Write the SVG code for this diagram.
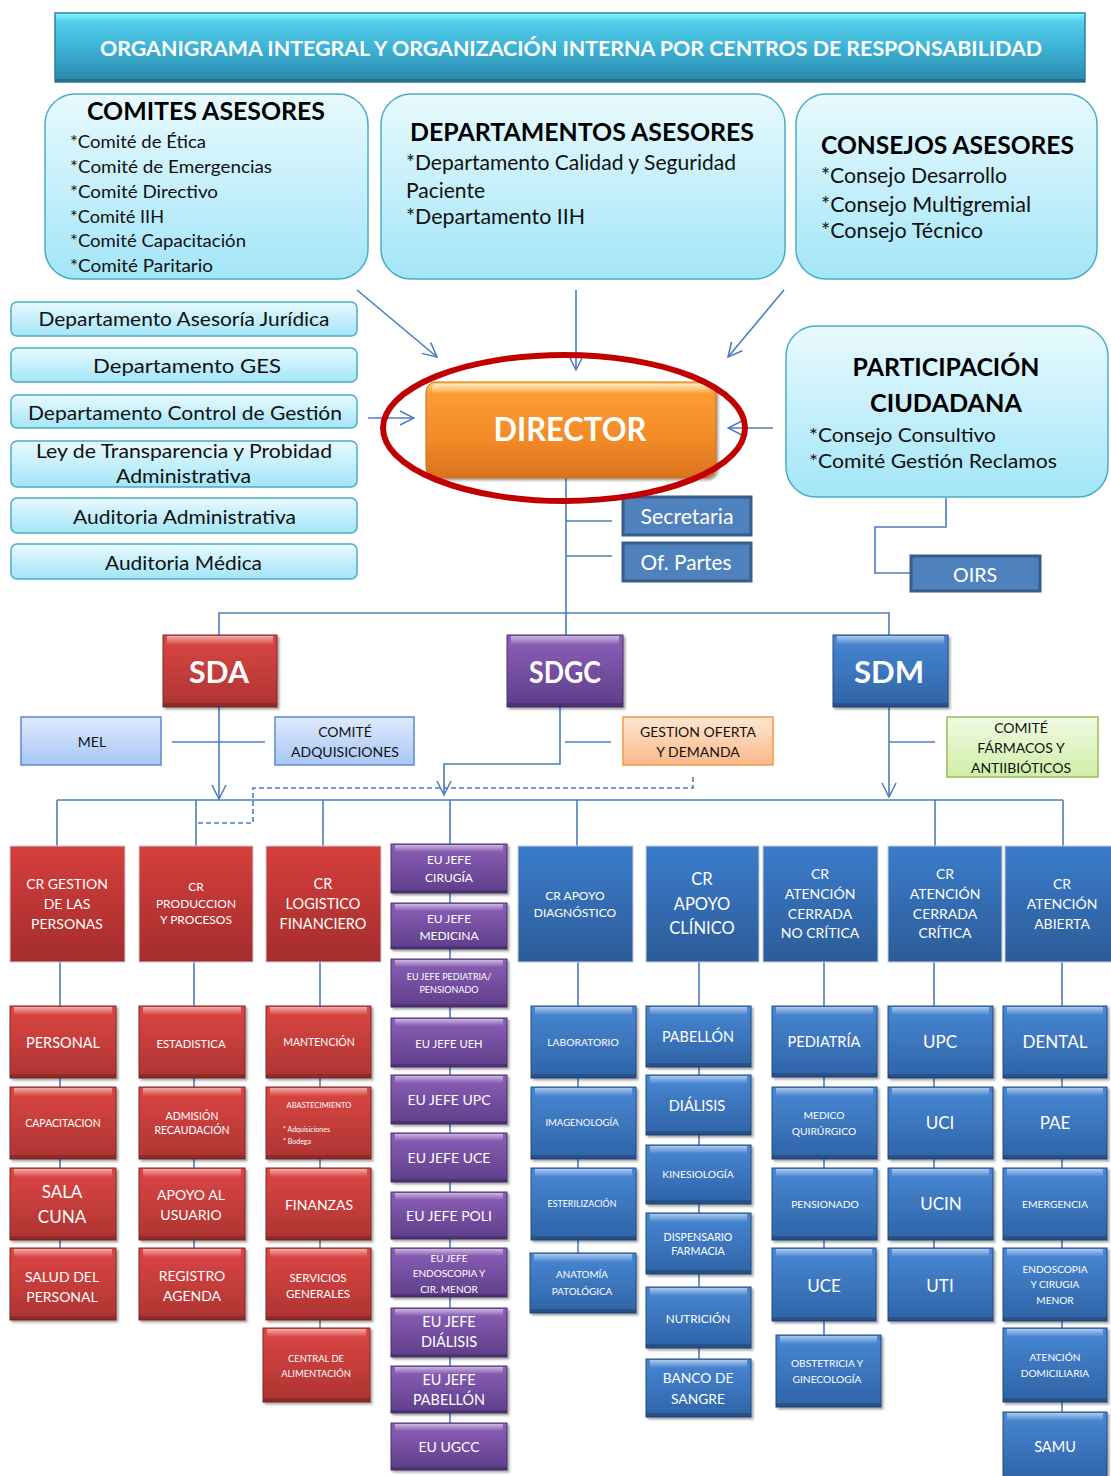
<svg xmlns="http://www.w3.org/2000/svg" width="1111" height="1476" viewBox="0 0 1111 1476">
<defs>
<linearGradient id="gHead" x1="0" y1="0" x2="0" y2="1"><stop offset="0" stop-color="#8af3ff"/><stop offset="0.12" stop-color="#55cfea"/><stop offset="0.5" stop-color="#3cb3d6"/><stop offset="1" stop-color="#2a86a8"/></linearGradient>
<linearGradient id="gAdv" x1="0" y1="0" x2="0" y2="1"><stop offset="0" stop-color="#e8fafe"/><stop offset="1" stop-color="#a3e5f7"/></linearGradient>
<linearGradient id="gDir" x1="0" y1="0" x2="0" y2="1"><stop offset="0" stop-color="#ffd36a"/><stop offset="0.12" stop-color="#fb9d33"/><stop offset="0.6" stop-color="#f28a27"/><stop offset="1" stop-color="#d9721d"/></linearGradient>
<linearGradient id="gRedCR" x1="0" y1="0" x2="0" y2="1"><stop offset="0" stop-color="#d53f3d"/><stop offset="1" stop-color="#a42d2c"/></linearGradient>
<linearGradient id="gBlueCR" x1="0" y1="0" x2="0" y2="1"><stop offset="0" stop-color="#3b7ccb"/><stop offset="1" stop-color="#2c5c99"/></linearGradient>
<linearGradient id="gRed" x1="0" y1="0" x2="0" y2="1"><stop offset="0" stop-color="#dc4644"/><stop offset="1" stop-color="#ad3432"/></linearGradient>
<linearGradient id="gBlue" x1="0" y1="0" x2="0" y2="1"><stop offset="0" stop-color="#4888d4"/><stop offset="1" stop-color="#2f63a6"/></linearGradient>
<linearGradient id="gPur" x1="0" y1="0" x2="0" y2="1"><stop offset="0" stop-color="#8c60b8"/><stop offset="1" stop-color="#5e3e8a"/></linearGradient>
<linearGradient id="gHl" x1="0" y1="0" x2="0" y2="1"><stop offset="0" stop-color="#ffffff" stop-opacity="0.55"/><stop offset="1" stop-color="#ffffff" stop-opacity="0"/></linearGradient>
<linearGradient id="gMel" x1="0" y1="0" x2="0" y2="1"><stop offset="0" stop-color="#dfeafc"/><stop offset="1" stop-color="#a8c6f4"/></linearGradient>
<linearGradient id="gGest" x1="0" y1="0" x2="0" y2="1"><stop offset="0" stop-color="#fde6d2"/><stop offset="1" stop-color="#fbb98a"/></linearGradient>
<linearGradient id="gFarm" x1="0" y1="0" x2="0" y2="1"><stop offset="0" stop-color="#f0fae2"/><stop offset="1" stop-color="#d0eea6"/></linearGradient>
<filter id="sh" x="-10%" y="-10%" width="125%" height="130%"><feDropShadow dx="2" dy="2" stdDeviation="1.2" flood-color="#000" flood-opacity="0.35"/></filter>
<marker id="ah" viewBox="0 0 16 16" refX="15" refY="8" markerWidth="16" markerHeight="16" orient="auto" markerUnits="userSpaceOnUse"><path d="M1,1 L15,8 L1,15" fill="none" stroke="#4a7ebb" stroke-width="1.5"/></marker>
<style>
text{font-family:Lato,"Liberation Sans",sans-serif}
.adv{fill:url(#gAdv);stroke:#4bacc6;stroke-width:1.5}
.tt{font-weight:bold;fill:#000}
.bk{fill:#111}
.w{fill:#fff;text-anchor:middle}
.m{text-anchor:middle}
.c{fill:none;stroke:#4a7ebb;stroke-width:1.6}
.d{stroke-dasharray:5 3}
.sm{fill:#4f81bd;stroke:#385d8a;stroke-width:3}
.cr{stroke:#c8ccd4;stroke-width:1}
.red .cr{fill:url(#gRedCR)}
.blue .cr{fill:url(#gBlueCR)}
.b{filter:url(#sh);stroke-width:1}
.red .b{fill:url(#gRed);stroke:#7e2826}
.blue .b{fill:url(#gBlue);stroke:#234a7e}
.pur .b{fill:url(#gPur);stroke:#48306c}
.hl{fill:url(#gHl)}
.dk{fill:#000;opacity:0.18}
</style>
</defs>
<rect width="1111" height="1476" fill="#fff"/>

<g id="header">
<rect x="55" y="13" width="1030" height="69" fill="url(#gHead)" stroke="#2f7f9e" stroke-width="1.5"/>
<rect x="55" y="79" width="1030" height="3" fill="#2a6f8a"/>
<text x="100" y="56" font-size="21" font-weight="bold" fill="#fff" textLength="942" lengthAdjust="spacingAndGlyphs">ORGANIGRAMA INTEGRAL Y ORGANIZACIÓN INTERNA POR CENTROS DE RESPONSABILIDAD</text>
</g>

<g id="connectors">
<line class="c" x1="357" y1="290" x2="437" y2="357" marker-end="url(#ah)"/>
<line class="c" x1="576" y1="290" x2="576" y2="370" marker-end="url(#ah)"/>
<line class="c" x1="784" y1="290" x2="728" y2="357" marker-end="url(#ah)"/>
<line class="c" x1="368" y1="418" x2="414" y2="418" marker-end="url(#ah)"/>
<line class="c" x1="773" y1="428" x2="728" y2="428" marker-end="url(#ah)"/>
<line class="c" x1="566" y1="478" x2="566" y2="636"/>
<line class="c" x1="566" y1="521" x2="612" y2="521"/>
<line class="c" x1="566" y1="556" x2="612" y2="556"/>
<polyline class="c" points="946,498 946,527 875,527 875,573 911,573"/>
<polyline class="c" points="219,636 219,613 889,613 889,636"/>
<line class="c" x1="219" y1="707" x2="219" y2="799" marker-end="url(#ah)"/>
<line class="c" x1="172" y1="742" x2="265" y2="742"/>
<polyline class="c" points="560,707 560,764 444,764 444,795" marker-end="url(#ah)"/>
<line class="c" x1="565" y1="742" x2="611" y2="742"/>
<line class="c" x1="889" y1="707" x2="889" y2="797" marker-end="url(#ah)"/>
<line class="c" x1="889" y1="742" x2="935" y2="742"/>
<polyline class="c d" points="693,777 693,788 253,788 253,823 197,823"/>
<line class="c" x1="57" y1="800" x2="1063" y2="800"/>
<line class="c" x1="57" y1="800" x2="57" y2="846"/>
<line class="c" x1="196" y1="800" x2="196" y2="846"/>
<line class="c" x1="323" y1="800" x2="323" y2="846"/>
<line class="c" x1="577" y1="800" x2="577" y2="846"/>
<line class="c" x1="935" y1="800" x2="935" y2="846"/>
<line class="c" x1="1063" y1="800" x2="1063" y2="846"/>
<line class="c" x1="450" y1="800" x2="450" y2="1423"/>
<line class="c" x1="60" y1="962" x2="60" y2="1248"/>
<line class="c" x1="194" y1="962" x2="194" y2="1248"/>
<line class="c" x1="320" y1="962" x2="320" y2="1328"/>
<line class="c" x1="578" y1="962" x2="578" y2="1253"/>
<line class="c" x1="699" y1="962" x2="699" y2="1359"/>
<line class="c" x1="824" y1="962" x2="824" y2="1335"/>
<line class="c" x1="934" y1="962" x2="934" y2="1248"/>
<line class="c" x1="1062" y1="962" x2="1062" y2="1412"/>
</g>

<g id="comites-asesores">
<rect class="adv" x="45" y="94" width="323" height="185" rx="30"/>
<text class="tt m" x="206" y="120" font-size="25" textLength="238" lengthAdjust="spacingAndGlyphs">COMITES ASESORES</text>
<g class="bk" font-size="18">
<text x="70" y="148" textLength="136" lengthAdjust="spacingAndGlyphs">*Comité de Ética</text>
<text x="70" y="173" textLength="202" lengthAdjust="spacingAndGlyphs">*Comité de Emergencias</text>
<text x="70" y="198" textLength="148" lengthAdjust="spacingAndGlyphs">*Comité Directivo</text>
<text x="70" y="223" textLength="94" lengthAdjust="spacingAndGlyphs">*Comité IIH</text>
<text x="70" y="247" textLength="176" lengthAdjust="spacingAndGlyphs">*Comité Capacitación</text>
<text x="70" y="272" textLength="143" lengthAdjust="spacingAndGlyphs">*Comité Paritario</text>
</g>
</g>

<g id="departamentos-asesores">
<rect class="adv" x="381" y="94" width="404" height="185" rx="30"/>
<text class="tt" x="410" y="141" font-size="25" textLength="344" lengthAdjust="spacingAndGlyphs">DEPARTAMENTOS ASESORES</text>
<g class="bk" font-size="20.5">
<text x="406" y="170" textLength="330" lengthAdjust="spacingAndGlyphs">*Departamento Calidad y Seguridad</text>
<text x="406" y="198" textLength="79" lengthAdjust="spacingAndGlyphs">Paciente</text>
<text x="406" y="224" textLength="179" lengthAdjust="spacingAndGlyphs">*Departamento IIH</text>
</g>
</g>

<g id="consejos-asesores">
<rect class="adv" x="796" y="94" width="301" height="185" rx="30"/>
<text class="tt" x="821" y="154" font-size="25" textLength="253" lengthAdjust="spacingAndGlyphs">CONSEJOS ASESORES</text>
<g class="bk" font-size="20.5">
<text x="821" y="183" textLength="186" lengthAdjust="spacingAndGlyphs">*Consejo Desarrollo</text>
<text x="821" y="212" textLength="210" lengthAdjust="spacingAndGlyphs">*Consejo Multigremial</text>
<text x="821" y="238" textLength="162" lengthAdjust="spacingAndGlyphs">*Consejo Técnico</text>
</g>
</g>

<g id="dept-asesoria-juridica"><rect class="adv" x="11" y="302" width="346" height="34" rx="6"/><text class="bk m" x="184" y="326" font-size="20" textLength="291" lengthAdjust="spacingAndGlyphs">Departamento Asesoría Jurídica</text></g>
<g id="dept-ges"><rect class="adv" x="11" y="348" width="346" height="34" rx="6"/><text class="bk m" x="187" y="373" font-size="20" textLength="188" lengthAdjust="spacingAndGlyphs">Departamento GES</text></g>
<g id="dept-control-gestion"><rect class="adv" x="11" y="395" width="346" height="33" rx="6"/><text class="bk m" x="185" y="420" font-size="20" textLength="314" lengthAdjust="spacingAndGlyphs">Departamento Control de Gestión</text></g>
<g id="ley-transparencia"><rect class="adv" x="11" y="441" width="346" height="46" rx="6"/><text class="bk m" x="184" y="458" font-size="20" textLength="296" lengthAdjust="spacingAndGlyphs">Ley de Transparencia y Probidad</text><text class="bk m" x="183.5" y="483" font-size="20" textLength="135" lengthAdjust="spacingAndGlyphs">Administrativa</text></g>
<g id="auditoria-administrativa"><rect class="adv" x="11" y="498" width="346" height="35" rx="6"/><text class="bk m" x="184.5" y="524" font-size="20" textLength="223" lengthAdjust="spacingAndGlyphs">Auditoria Administrativa</text></g>
<g id="auditoria-medica"><rect class="adv" x="11" y="544" width="346" height="35" rx="6"/><text class="bk m" x="183.5" y="570" font-size="20" textLength="157" lengthAdjust="spacingAndGlyphs">Auditoria Médica</text></g>

<g id="director">
<rect x="426" y="382" width="290" height="96" rx="10" fill="url(#gDir)" stroke="#c96a1a" stroke-width="1" filter="url(#sh)"/>
<rect x="432" y="384" width="278" height="10" rx="4" class="hl"/>
<text class="w" x="570" y="441" font-size="32" font-weight="bold" textLength="153" lengthAdjust="spacingAndGlyphs">DIRECTOR</text>
</g>

<g id="participacion-ciudadana">
<rect class="adv" x="786" y="326" width="322" height="171" rx="30"/>
<text class="tt m" x="946" y="376" font-size="25" textLength="187" lengthAdjust="spacingAndGlyphs">PARTICIPACIÓN</text>
<text class="tt m" x="946" y="412" font-size="25" textLength="152" lengthAdjust="spacingAndGlyphs">CIUDADANA</text>
<text class="bk" x="809" y="442" font-size="20" textLength="187" lengthAdjust="spacingAndGlyphs">*Consejo Consultivo</text>
<text class="bk" x="809" y="468" font-size="20" textLength="248" lengthAdjust="spacingAndGlyphs">*Comité Gestión Reclamos</text>
</g>

<g id="secretaria"><rect class="sm" x="623" y="497" width="128" height="38"/><text class="w" x="687" y="524" font-size="21" textLength="93" lengthAdjust="spacingAndGlyphs">Secretaria</text></g>
<g id="of-partes"><rect class="sm" x="623" y="543" width="128" height="38"/><text class="w" x="686" y="570" font-size="21" textLength="91" lengthAdjust="spacingAndGlyphs">Of. Partes</text></g>
<g id="oirs"><rect class="sm" x="911" y="556" width="129" height="35"/><text class="w" x="975" y="582" font-size="20" textLength="44" lengthAdjust="spacingAndGlyphs">OIRS</text></g>

<g id="sda" class="red"><rect class="b" x="163" y="635" width="114" height="72"/><rect class="hl" x="167" y="636" width="106" height="9"/><rect class="dk" x="163" y="703" width="114" height="4"/><text class="w" x="219" y="683" font-size="31" font-weight="bold" textLength="60" lengthAdjust="spacingAndGlyphs">SDA</text></g>
<g id="sdgc" class="pur"><rect class="b" x="507" y="635" width="116" height="72"/><rect class="hl" x="511" y="636" width="108" height="9"/><rect class="dk" x="507" y="703" width="116" height="4"/><text class="w" x="565" y="683" font-size="31" font-weight="bold" textLength="72" lengthAdjust="spacingAndGlyphs">SDGC</text></g>
<g id="sdm" class="blue"><rect class="b" x="833" y="635" width="115" height="72"/><rect class="hl" x="837" y="636" width="107" height="9"/><rect class="dk" x="833" y="703" width="115" height="4"/><text class="w" x="889" y="683" font-size="31" font-weight="bold" textLength="70" lengthAdjust="spacingAndGlyphs">SDM</text></g>

<g id="mel"><rect x="21" y="717" width="140" height="48" fill="url(#gMel)" stroke="#5b8bd0" stroke-width="1.5"/><text class="bk m" x="92" y="747" font-size="14">MEL</text></g>
<g id="comite-adquisiciones"><rect x="275" y="717" width="139" height="48" fill="url(#gMel)" stroke="#5b8bd0" stroke-width="1.5"/><text class="bk m" x="345" y="737" font-size="14">COMITÉ</text><text class="bk m" x="345" y="757" font-size="14">ADQUISICIONES</text></g>
<g id="gestion-oferta"><rect x="623" y="717" width="150" height="48" fill="url(#gGest)" stroke="#f79646" stroke-width="1.5"/><text class="bk m" x="698" y="737" font-size="14">GESTION OFERTA</text><text class="bk m" x="698" y="757" font-size="14">Y DEMANDA</text></g>
<g id="comite-farmacos"><rect x="947" y="717" width="151" height="60" fill="url(#gFarm)" stroke="#9bbb59" stroke-width="1.5"/><text class="bk m" x="1021" y="733" font-size="14">COMITÉ</text><text class="bk m" x="1021" y="753" font-size="14">FÁRMACOS Y</text><text class="bk m" x="1021" y="773" font-size="14">ANTIIBIÓTICOS</text></g>

<!-- CR boxes -->
<g id="cr-gestion-personas" class="red"><rect class="cr" x="10" y="846" width="115" height="116"/><g class="w" font-size="14"><text x="67" y="889">CR GESTION</text><text x="67" y="909">DE LAS</text><text x="67" y="929">PERSONAS</text></g></g>
<g id="cr-produccion-procesos" class="red"><rect class="cr" x="139" y="846" width="114" height="116"/><g class="w" font-size="12"><text x="196" y="891">CR</text><text x="196" y="908">PRODUCCION</text><text x="196" y="924">Y PROCESOS</text></g></g>
<g id="cr-logistico-financiero" class="red"><rect class="cr" x="266" y="846" width="115" height="116"/><g class="w" font-size="14.5"><text x="323" y="889">CR</text><text x="323" y="909">LOGISTICO</text><text x="323" y="929">FINANCIERO</text></g></g>
<g id="cr-apoyo-diagnostico" class="blue"><rect class="cr" x="518" y="846" width="115" height="116"/><g class="w" font-size="12"><text x="575" y="900">CR APOYO</text><text x="575" y="917">DIAGNÓSTICO</text></g></g>
<g id="cr-apoyo-clinico" class="blue"><rect class="cr" x="646" y="846" width="113" height="116"/><g class="w" font-size="16.5"><text x="702" y="885">CR</text><text x="702" y="910">APOYO</text><text x="702" y="934">CLÍNICO</text></g></g>
<g id="cr-atencion-cerrada-no-critica" class="blue"><rect class="cr" x="763" y="846" width="115" height="116"/><g class="w" font-size="14"><text x="820" y="879">CR</text><text x="820" y="899">ATENCIÓN</text><text x="820" y="919">CERRADA</text><text x="820" y="938">NO CRÍTICA</text></g></g>
<g id="cr-atencion-cerrada-critica" class="blue"><rect class="cr" x="888" y="846" width="114" height="116"/><g class="w" font-size="14"><text x="945" y="879">CR</text><text x="945" y="899">ATENCIÓN</text><text x="945" y="919">CERRADA</text><text x="945" y="938">CRÍTICA</text></g></g>
<g id="cr-atencion-abierta" class="blue"><rect class="cr" x="1005" y="846" width="107" height="116"/><g class="w" font-size="14"><text x="1062" y="889">CR</text><text x="1062" y="909">ATENCIÓN</text><text x="1062" y="929">ABIERTA</text></g></g>

<!-- red sub column 1 -->
<g id="personal" class="red"><rect class="b" x="10" y="1006" width="106" height="72"/><rect class="hl" x="14" y="1007" width="98" height="8"/><rect class="dk" x="10" y="1074" width="106" height="4"/><text class="w" x="63" y="1048" font-size="14.5">PERSONAL</text></g>
<g id="capacitacion" class="red"><rect class="b" x="10" y="1087" width="106" height="72"/><rect class="hl" x="14" y="1088" width="98" height="8"/><rect class="dk" x="10" y="1155" width="106" height="4"/><text class="w" x="63" y="1127" font-size="10.5">CAPACITACION</text></g>
<g id="sala-cuna" class="red"><rect class="b" x="10" y="1168" width="106" height="72"/><rect class="hl" x="14" y="1169" width="98" height="8"/><rect class="dk" x="10" y="1236" width="106" height="4"/><text class="w" x="62" y="1198" font-size="17">SALA</text><text class="w" x="62" y="1223" font-size="17">CUNA</text></g>
<g id="salud-personal" class="red"><rect class="b" x="10" y="1248" width="106" height="72"/><rect class="hl" x="14" y="1249" width="98" height="8"/><rect class="dk" x="10" y="1316" width="106" height="4"/><text class="w" x="62" y="1282" font-size="14">SALUD DEL</text><text class="w" x="62" y="1302" font-size="14">PERSONAL</text></g>

<!-- red sub column 2 -->
<g id="estadistica" class="red"><rect class="b" x="139" y="1006" width="106" height="72"/><rect class="hl" x="143" y="1007" width="98" height="8"/><rect class="dk" x="139" y="1074" width="106" height="4"/><text class="w" x="191" y="1048" font-size="11.3">ESTADISTICA</text></g>
<g id="admision-recaudacion" class="red"><rect class="b" x="139" y="1087" width="106" height="72"/><rect class="hl" x="143" y="1088" width="98" height="8"/><rect class="dk" x="139" y="1155" width="106" height="4"/><text class="w" x="192" y="1120" font-size="10.5">ADMISIÓN</text><text class="w" x="192" y="1134" font-size="10.5">RECAUDACIÓN</text></g>
<g id="apoyo-usuario" class="red"><rect class="b" x="139" y="1168" width="106" height="72"/><rect class="hl" x="143" y="1169" width="98" height="8"/><rect class="dk" x="139" y="1236" width="106" height="4"/><text class="w" x="191" y="1200" font-size="14">APOYO AL</text><text class="w" x="191" y="1220" font-size="14">USUARIO</text></g>
<g id="registro-agenda" class="red"><rect class="b" x="139" y="1248" width="106" height="72"/><rect class="hl" x="143" y="1249" width="98" height="8"/><rect class="dk" x="139" y="1316" width="106" height="4"/><text class="w" x="192" y="1281" font-size="14">REGISTRO</text><text class="w" x="192" y="1301" font-size="14">AGENDA</text></g>

<!-- red sub column 3 -->
<g id="mantencion" class="red"><rect class="b" x="266" y="1006" width="105" height="72"/><rect class="hl" x="270" y="1007" width="97" height="8"/><rect class="dk" x="266" y="1074" width="105" height="4"/><text class="w" x="319" y="1046" font-size="10.5">MANTENCIÓN</text></g>
<g id="abastecimiento" class="red"><rect class="b" x="266" y="1087" width="105" height="72"/><rect class="hl" x="270" y="1088" width="97" height="8"/><rect class="dk" x="266" y="1155" width="105" height="4"/><text class="w" x="319" y="1108" font-size="7.6">ABASTECIMIENTO</text><text x="283" y="1132" font-size="7" fill="#fff">* Adquisiciones</text><text x="283" y="1144" font-size="7" fill="#fff">* Bodega</text></g>
<g id="finanzas" class="red"><rect class="b" x="266" y="1168" width="105" height="72"/><rect class="hl" x="270" y="1169" width="97" height="8"/><rect class="dk" x="266" y="1236" width="105" height="4"/><text class="w" x="319" y="1210" font-size="14">FINANZAS</text></g>
<g id="servicios-generales" class="red"><rect class="b" x="266" y="1248" width="105" height="72"/><rect class="hl" x="270" y="1249" width="97" height="8"/><rect class="dk" x="266" y="1316" width="105" height="4"/><text class="w" x="318" y="1282" font-size="11.5">SERVICIOS</text><text class="w" x="318" y="1298" font-size="11.5">GENERALES</text></g>
<g id="central-alimentacion" class="red"><rect class="b" x="263" y="1328" width="107" height="74"/><rect class="hl" x="267" y="1329" width="99" height="8"/><rect class="dk" x="263" y="1398" width="107" height="4"/><text class="w" x="316" y="1362" font-size="9.4">CENTRAL DE</text><text class="w" x="316" y="1377" font-size="9.4">ALIMENTACIÓN</text></g>

<!-- purple EU column -->
<g id="eu-cirugia" class="pur"><rect class="b" x="391" y="844" width="116" height="49"/><rect class="hl" x="395" y="845" width="108" height="7"/><rect class="dk" x="391" y="890" width="116" height="3"/><text class="w" x="449" y="864" font-size="12">EU JEFE</text><text class="w" x="449" y="882" font-size="12">CIRUGÍA</text></g>
<g id="eu-medicina" class="pur"><rect class="b" x="391" y="903" width="116" height="46"/><rect class="hl" x="395" y="904" width="108" height="7"/><rect class="dk" x="391" y="946" width="116" height="3"/><text class="w" x="449" y="923" font-size="12">EU JEFE</text><text class="w" x="449" y="940" font-size="12">MEDICINA</text></g>
<g id="eu-pediatria" class="pur"><rect class="b" x="391" y="959" width="116" height="48"/><rect class="hl" x="395" y="960" width="108" height="7"/><rect class="dk" x="391" y="1004" width="116" height="3"/><text class="w" x="449" y="980" font-size="9">EU JEFE PEDIATRIA/</text><text class="w" x="449" y="993" font-size="9">PENSIONADO</text></g>
<g id="eu-ueh" class="pur"><rect class="b" x="391" y="1018" width="116" height="49"/><rect class="hl" x="395" y="1019" width="108" height="7"/><rect class="dk" x="391" y="1064" width="116" height="3"/><text class="w" x="449" y="1048" font-size="11.2">EU JEFE UEH</text></g>
<g id="eu-upc" class="pur"><rect class="b" x="391" y="1075" width="116" height="49"/><rect class="hl" x="395" y="1076" width="108" height="7"/><rect class="dk" x="391" y="1121" width="116" height="3"/><text class="w" x="449" y="1105" font-size="14">EU JEFE UPC</text></g>
<g id="eu-uce" class="pur"><rect class="b" x="391" y="1133" width="116" height="49"/><rect class="hl" x="395" y="1134" width="108" height="7"/><rect class="dk" x="391" y="1179" width="116" height="3"/><text class="w" x="449" y="1163" font-size="14">EU JEFE UCE</text></g>
<g id="eu-poli" class="pur"><rect class="b" x="391" y="1192" width="116" height="47"/><rect class="hl" x="395" y="1193" width="108" height="7"/><rect class="dk" x="391" y="1236" width="116" height="3"/><text class="w" x="449" y="1221" font-size="14">EU JEFE POLI</text></g>
<g id="eu-endoscopia" class="pur"><rect class="b" x="391" y="1248" width="116" height="49"/><rect class="hl" x="395" y="1249" width="108" height="7"/><rect class="dk" x="391" y="1294" width="116" height="3"/><text class="w" x="449" y="1262" font-size="10">EU JEFE</text><text class="w" x="449" y="1277" font-size="10">ENDOSCOPIA Y</text><text class="w" x="449" y="1293" font-size="10">CIR. MENOR</text></g>
<g id="eu-dialisis" class="pur"><rect class="b" x="391" y="1308" width="116" height="49"/><rect class="hl" x="395" y="1309" width="108" height="7"/><rect class="dk" x="391" y="1354" width="116" height="3"/><text class="w" x="449" y="1327" font-size="14.5">EU JEFE</text><text class="w" x="449" y="1347" font-size="14.5">DIÁLISIS</text></g>
<g id="eu-pabellon" class="pur"><rect class="b" x="391" y="1366" width="116" height="47"/><rect class="hl" x="395" y="1367" width="108" height="7"/><rect class="dk" x="391" y="1410" width="116" height="3"/><text class="w" x="449" y="1385" font-size="14.4">EU JEFE</text><text class="w" x="449" y="1405" font-size="14.4">PABELLÓN</text></g>
<g id="eu-ugcc" class="pur"><rect class="b" x="391" y="1423" width="116" height="47"/><rect class="hl" x="395" y="1424" width="108" height="7"/><rect class="dk" x="391" y="1467" width="116" height="3"/><text class="w" x="449" y="1452" font-size="14">EU UGCC</text></g>

<!-- blue apoyo diagnostico -->
<g id="laboratorio" class="blue"><rect class="b" x="531" y="1006" width="105" height="72"/><rect class="hl" x="535" y="1007" width="97" height="8"/><rect class="dk" x="531" y="1074" width="105" height="4"/><text class="w" x="583" y="1046" font-size="10.3">LABORATORIO</text></g>
<g id="imagenologia" class="blue"><rect class="b" x="531" y="1087" width="105" height="72"/><rect class="hl" x="535" y="1088" width="97" height="8"/><rect class="dk" x="531" y="1155" width="105" height="4"/><text class="w" x="582" y="1126" font-size="9.5">IMAGENOLOGÍA</text></g>
<g id="esterilizacion" class="blue"><rect class="b" x="531" y="1168" width="105" height="72"/><rect class="hl" x="535" y="1169" width="97" height="8"/><rect class="dk" x="531" y="1236" width="105" height="4"/><text class="w" x="582" y="1207" font-size="8.9">ESTERILIZACIÓN</text></g>
<g id="anatomia-patologica" class="blue"><rect class="b" x="530" y="1253" width="106" height="60"/><rect class="hl" x="534" y="1254" width="98" height="8"/><rect class="dk" x="530" y="1309" width="106" height="4"/><text class="w" x="582" y="1278" font-size="9.8">ANATOMÍA</text><text class="w" x="582" y="1295" font-size="9.8">PATOLÓGICA</text></g>

<!-- blue apoyo clinico -->
<g id="pabellon" class="blue"><rect class="b" x="646" y="1006" width="105" height="61"/><rect class="hl" x="650" y="1007" width="97" height="8"/><rect class="dk" x="646" y="1063" width="105" height="4"/><text class="w" x="698" y="1042" font-size="14.4">PABELLÓN</text></g>
<g id="dialisis" class="blue"><rect class="b" x="646" y="1075" width="105" height="60"/><rect class="hl" x="650" y="1076" width="97" height="8"/><rect class="dk" x="646" y="1131" width="105" height="4"/><text class="w" x="697" y="1111" font-size="14.6">DIÁLISIS</text></g>
<g id="kinesiologia" class="blue"><rect class="b" x="646" y="1145" width="105" height="59"/><rect class="hl" x="650" y="1146" width="97" height="8"/><rect class="dk" x="646" y="1200" width="105" height="4"/><text class="w" x="698" y="1178" font-size="10.4">KINESIOLOGÍA</text></g>
<g id="dispensario-farmacia" class="blue"><rect class="b" x="646" y="1213" width="105" height="61"/><rect class="hl" x="650" y="1214" width="97" height="8"/><rect class="dk" x="646" y="1270" width="105" height="4"/><text class="w" x="698" y="1241" font-size="10.7">DISPENSARIO</text><text class="w" x="698" y="1255" font-size="10.7">FARMACIA</text></g>
<g id="nutricion" class="blue"><rect class="b" x="646" y="1287" width="105" height="61"/><rect class="hl" x="650" y="1288" width="97" height="8"/><rect class="dk" x="646" y="1344" width="105" height="4"/><text class="w" x="698" y="1323" font-size="11.7">NUTRICIÓN</text></g>
<g id="banco-sangre" class="blue"><rect class="b" x="646" y="1359" width="105" height="58"/><rect class="hl" x="650" y="1360" width="97" height="8"/><rect class="dk" x="646" y="1413" width="105" height="4"/><text class="w" x="698" y="1383" font-size="13.8">BANCO DE</text><text class="w" x="698" y="1404" font-size="13.8">SANGRE</text></g>

<!-- blue atencion cerrada no critica -->
<g id="pediatria" class="blue"><rect class="b" x="772" y="1006" width="105" height="71"/><rect class="hl" x="776" y="1007" width="97" height="8"/><rect class="dk" x="772" y="1073" width="105" height="4"/><text class="w" x="824" y="1047" font-size="14.6">PEDIATRÍA</text></g>
<g id="medico-quirurgico" class="blue"><rect class="b" x="772" y="1087" width="105" height="72"/><rect class="hl" x="776" y="1088" width="97" height="8"/><rect class="dk" x="772" y="1155" width="105" height="4"/><text class="w" x="824" y="1119" font-size="10.3">MEDICO</text><text class="w" x="824" y="1135" font-size="10.3">QUIRÚRGICO</text></g>
<g id="pensionado" class="blue"><rect class="b" x="772" y="1168" width="105" height="72"/><rect class="hl" x="776" y="1169" width="97" height="8"/><rect class="dk" x="772" y="1236" width="105" height="4"/><text class="w" x="825" y="1208" font-size="10.3">PENSIONADO</text></g>
<g id="uce" class="blue"><rect class="b" x="772" y="1248" width="104" height="73"/><rect class="hl" x="776" y="1249" width="96" height="8"/><rect class="dk" x="772" y="1317" width="104" height="4"/><text class="w" x="824" y="1292" font-size="17">UCE</text></g>
<g id="obstetricia-ginecologia" class="blue"><rect class="b" x="776" y="1335" width="105" height="72"/><rect class="hl" x="780" y="1336" width="97" height="8"/><rect class="dk" x="776" y="1403" width="105" height="4"/><text class="w" x="827" y="1367" font-size="10.2">OBSTETRICIA Y</text><text class="w" x="827" y="1383" font-size="10.2">GINECOLOGÍA</text></g>

<!-- blue atencion cerrada critica -->
<g id="upc" class="blue"><rect class="b" x="888" y="1006" width="105" height="72"/><rect class="hl" x="892" y="1007" width="97" height="8"/><rect class="dk" x="888" y="1074" width="105" height="4"/><text class="w" x="940" y="1048" font-size="17">UPC</text></g>
<g id="uci" class="blue"><rect class="b" x="888" y="1087" width="105" height="72"/><rect class="hl" x="892" y="1088" width="97" height="8"/><rect class="dk" x="888" y="1155" width="105" height="4"/><text class="w" x="940" y="1129" font-size="17">UCI</text></g>
<g id="ucin" class="blue"><rect class="b" x="888" y="1168" width="105" height="72"/><rect class="hl" x="892" y="1169" width="97" height="8"/><rect class="dk" x="888" y="1236" width="105" height="4"/><text class="w" x="941" y="1210" font-size="17">UCIN</text></g>
<g id="uti" class="blue"><rect class="b" x="888" y="1248" width="105" height="73"/><rect class="hl" x="892" y="1249" width="97" height="8"/><rect class="dk" x="888" y="1317" width="105" height="4"/><text class="w" x="940" y="1292" font-size="17">UTI</text></g>

<!-- blue atencion abierta -->
<g id="dental" class="blue"><rect class="b" x="1003" y="1006" width="104" height="72"/><rect class="hl" x="1007" y="1007" width="96" height="8"/><rect class="dk" x="1003" y="1074" width="104" height="4"/><text class="w" x="1055" y="1048" font-size="17">DENTAL</text></g>
<g id="pae" class="blue"><rect class="b" x="1003" y="1087" width="104" height="72"/><rect class="hl" x="1007" y="1088" width="96" height="8"/><rect class="dk" x="1003" y="1155" width="104" height="4"/><text class="w" x="1055" y="1129" font-size="17">PAE</text></g>
<g id="emergencia" class="blue"><rect class="b" x="1003" y="1168" width="104" height="72"/><rect class="hl" x="1007" y="1169" width="96" height="8"/><rect class="dk" x="1003" y="1236" width="104" height="4"/><text class="w" x="1055" y="1208" font-size="10.3">EMERGENCIA</text></g>
<g id="endoscopia-cirugia-menor" class="blue"><rect class="b" x="1003" y="1248" width="104" height="73"/><rect class="hl" x="1007" y="1249" width="96" height="8"/><rect class="dk" x="1003" y="1317" width="104" height="4"/><text class="w" x="1055" y="1273" font-size="10.1">ENDOSCOPIA</text><text class="w" x="1055" y="1288" font-size="10.1">Y CIRUGIA</text><text class="w" x="1055" y="1304" font-size="10.1">MENOR</text></g>
<g id="atencion-domiciliaria" class="blue"><rect class="b" x="1003" y="1328" width="104" height="74"/><rect class="hl" x="1007" y="1329" width="96" height="8"/><rect class="dk" x="1003" y="1398" width="104" height="4"/><text class="w" x="1055" y="1361" font-size="10.1">ATENCIÓN</text><text class="w" x="1055" y="1377" font-size="10.1">DOMICILIARIA</text></g>
<g id="samu" class="blue"><rect class="b" x="1003" y="1412" width="104" height="68"/><rect class="hl" x="1007" y="1413" width="96" height="8"/><text class="w" x="1055" y="1452" font-size="14.5">SAMU</text></g>

<g id="director-highlight">
<ellipse cx="564" cy="428" rx="181" ry="73" fill="none" stroke="#c00000" stroke-width="6"/>
</g>
</svg>
